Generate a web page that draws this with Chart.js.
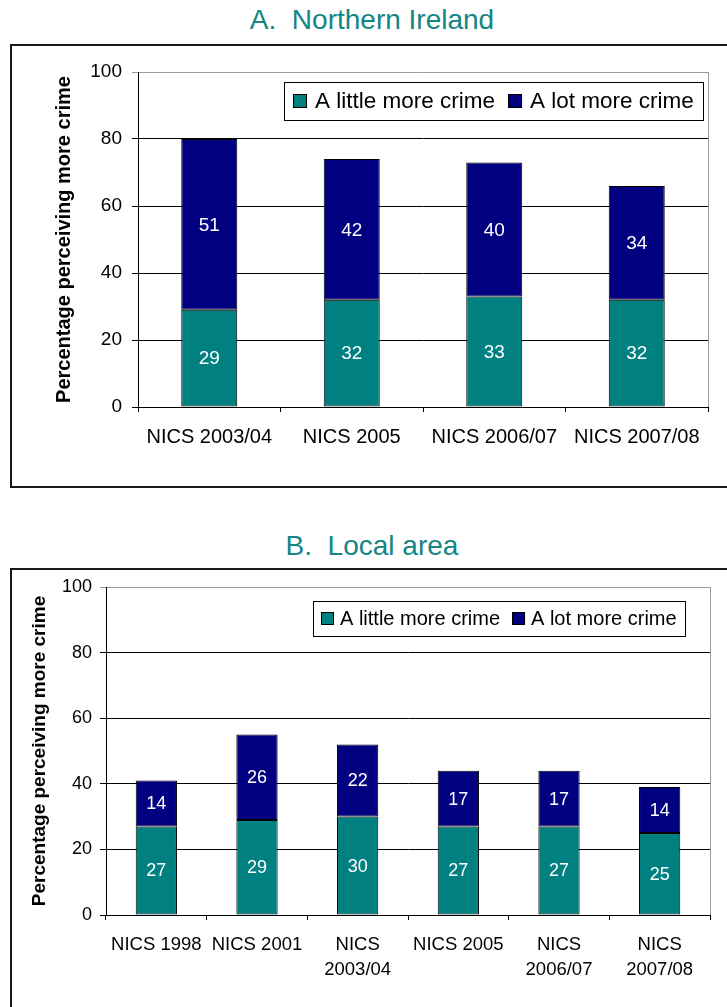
<!DOCTYPE html>
<html>
<head>
<meta charset="utf-8">
<script src="https://cdn.jsdelivr.net/npm/chart.js@4/dist/chart.umd.min.js"></script>
<style>
  html, body { margin: 0; padding: 0; background: #fff; overflow: hidden; width: 727px; height: 1007px; }
  .title { position: absolute; left: 10px; width: 724px; text-align: center;
           font: 28px "Liberation Sans", Arial, sans-serif; line-height: 34px; color: #138585; }
  .frame { position: absolute; left: 10px; width: 724px; border: 2px solid #1a1a1a; box-sizing: border-box; }
  canvas { position: absolute; left: 0; }
</style>
</head>
<body>
<div class="title" style="top:3px">A.&nbsp; Northern Ireland</div>
<div class="frame" style="top:44px;height:444px"></div>
<canvas id="chartA" width="727" height="443" style="top:44px"></canvas>

<div class="title" style="top:529px">B.&nbsp; Local area</div>
<div class="frame" style="top:568px;height:460px"></div>
<canvas id="chartB" width="727" height="439" style="top:568px"></canvas>

<script>
// Survey series
const seriesNames = ['A little more crime', 'A lot more crime'];
const seriesColors = ['#008080', '#000080'];

// Panel A: Northern Ireland as a whole
const niCategories = ['NICS 2003/04', 'NICS 2005', 'NICS 2006/07', 'NICS 2007/08'];
const niLittle = [29, 32, 33, 32];
const niLot = [51, 42, 40, 34];

// Panel B: respondents' local area
const localCategories = ['NICS 1998', 'NICS 2001', ['NICS', '2003/04'], 'NICS 2005', ['NICS', '2006/07'], ['NICS', '2007/08']];
const localLittle = [27, 29, 30, 27, 27, 25];
const localLot = [14, 26, 22, 17, 17, 14];

// Shared value axis
const yTickValues = [0, 20, 40, 60, 80, 100];
const yTitle = 'Percentage perceiving more crime';

const FONT = '"Liberation Sans", Arial, sans-serif';

// White value labels centred in each stacked segment
const segmentLabels = {
  id: 'segmentLabels',
  afterDatasetsDraw(chart, args, opts) {
    const ctx = chart.ctx;
    ctx.save();
    ctx.font = `${opts.size}px ${FONT}`;
    ctx.fillStyle = '#fff';
    ctx.textAlign = 'center';
    ctx.textBaseline = 'middle';
    chart.data.datasets.forEach((ds, di) => {
      chart.getDatasetMeta(di).data.forEach((bar, i) => {
        const p = bar.getProps(['x', 'y', 'base'], true);
        ctx.fillText(String(ds.data[i]), p.x, (p.y + p.base) / 2 + 1);
      });
    });
    ctx.restore();
  }
};

// Grey right-hand edge of the plot area
const plotFrame = {
  id: 'plotFrame',
  beforeDatasetsDraw(chart) {
    const { ctx, chartArea: ca } = chart;
    ctx.save();
    ctx.strokeStyle = '#9a9a9a';
    ctx.lineWidth = 1;
    ctx.beginPath();
    ctx.moveTo(Math.round(ca.right) + 0.5, ca.top);
    ctx.lineTo(Math.round(ca.right) + 0.5, ca.bottom);
    ctx.stroke();
    ctx.restore();
  }
};

// Boxed legend sitting inside the top right of the plot area
const boxedLegend = {
  id: 'boxedLegend',
  afterDraw(chart, args, o) {
    const { ctx, chartArea: ca } = chart;
    ctx.save();
    ctx.font = `${o.size}px ${FONT}`;
    const items = chart.data.datasets.map(d => ({ text: d.label, color: d.backgroundColor }));
    const widths = items.map(it => ctx.measureText(it.text).width);
    const w = o.padX * 2 + items.reduce((s, it, i) => s + o.box + o.gap + widths[i], 0) + o.itemGap * (items.length - 1);
    const right = Math.round(ca.right - o.offsetRight);
    const left = Math.round(right - w);
    const top = Math.round(ca.top + o.offsetTop);
    ctx.fillStyle = '#fff';
    ctx.fillRect(left, top, right - left, o.height);
    ctx.strokeStyle = '#000';
    ctx.lineWidth = 1;
    ctx.strokeRect(left + 0.5, top + 0.5, right - left, o.height);
    let x = left + o.padX;
    const cy = top + o.height / 2;
    items.forEach((it, i) => {
      const by = Math.round(cy - o.box / 2);
      ctx.fillStyle = it.color;
      ctx.fillRect(x, by, o.box, o.box);
      ctx.strokeStyle = '#000';
      ctx.strokeRect(x + 0.5, by + 0.5, o.box - 1, o.box - 1);
      x += o.box + o.gap;
      ctx.fillStyle = '#000';
      ctx.textAlign = 'left';
      ctx.textBaseline = 'middle';
      ctx.fillText(it.text, x, cy + 1);
      x += widths[i] + o.itemGap;
    });
    ctx.restore();
  }
};

function buildChart(id, categories, little, lot, s) {
  return new Chart(document.getElementById(id), {
    type: 'bar',
    data: {
      labels: categories,
      datasets: [
        { label: seriesNames[0], data: little, backgroundColor: seriesColors[0], borderColor: '#000', borderWidth: 1, borderSkipped: false },
        { label: seriesNames[1], data: lot, backgroundColor: seriesColors[1], borderColor: '#000', borderWidth: 1, borderSkipped: false }
      ]
    },
    plugins: [plotFrame, segmentLabels, boxedLegend],
    options: {
      responsive: false,
      maintainAspectRatio: false,
      animation: false,
      layout: { padding: { left: 0, top: s.top, right: s.right, bottom: 0 } },
      datasets: { bar: { categoryPercentage: 1, barPercentage: s.barPct } },
      plugins: {
        legend: { display: false },
        tooltip: { enabled: false },
        segmentLabels: { size: s.valueSize },
        boxedLegend: s.legend
      },
      scales: {
        x: {
          stacked: true,
          grid: { drawOnChartArea: false, drawTicks: true, tickLength: 5, color: '#000' },
          border: { color: '#000', width: 1 },
          ticks: { font: { family: FONT, size: s.xTickSize, lineHeight: s.xLineHeight }, color: '#000',
                   padding: s.xPad, maxRotation: 0, minRotation: 0, autoSkip: false },
          afterFit(sc) { sc.height = s.xHeight; }
        },
        y: {
          stacked: true,
          min: 0,
          max: 100,
          afterBuildTicks(sc) { sc.ticks = yTickValues.map(v => ({ value: v })); },
          grid: { color: c => (c.tick && c.tick.value === 100) ? '#9a9a9a' : '#000', tickLength: 6, lineWidth: 1 },
          border: { color: '#000', width: 1 },
          ticks: { font: { family: FONT, size: s.yTickSize }, color: '#000', padding: s.yPad },
          title: { display: true, text: yTitle, color: '#000',
                   font: { family: FONT, size: s.titleSize, weight: 'bold' },
                   padding: { top: s.titlePad, bottom: 0 } },
          afterFit(sc) { sc.width = s.yWidth; }
        }
      }
    }
  });
}

buildChart('chartA', niCategories, niLittle, niLot, {
  top: 28, right: 19, yWidth: 138, xHeight: 80, barPct: 0.393,
  valueSize: 19, xTickSize: 20, xLineHeight: 1.2, xPad: 13, yTickSize: 19, yPad: 10,
  titleSize: 20, titlePad: 52,
  legend: { size: 22.5, offsetTop: 10, offsetRight: 5, height: 38, padX: 9, box: 14, gap: 8, itemGap: 13 }
});

buildChart('chartB', localCategories, localLittle, localLot, {
  top: 19, right: 17, yWidth: 106, xHeight: 92, barPct: 0.41,
  valueSize: 18, xTickSize: 18.5, xLineHeight: 1.33, xPad: 13, yTickSize: 18, yPad: 8,
  titleSize: 19, titlePad: 28,
  legend: { size: 20, offsetTop: 14, offsetRight: 25, height: 35, padX: 8, box: 13, gap: 6, itemGap: 12 }
});
</script>
</body>
</html>
